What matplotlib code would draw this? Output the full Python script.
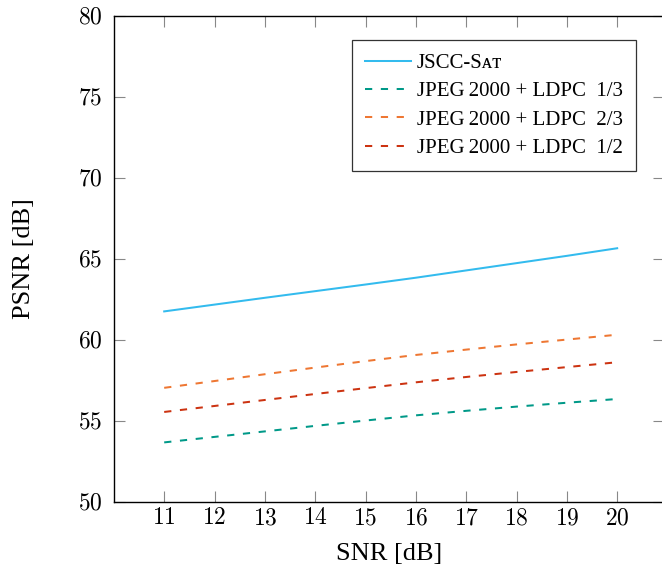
import numpy as np
import matplotlib
matplotlib.use("Agg")
import matplotlib.pyplot as plt

plt.rcParams['font.family'] = ['Liberation Serif', 'DejaVu Serif']
plt.rcParams['mathtext.fontset'] = 'cm'
plt.rcParams['lines.scale_dashes'] = False

# data
snr = [11, 12, 13, 14, 15, 16, 17, 18, 19, 20]
psnr_jscc = [61.74, 62.16, 62.58, 62.99, 63.40, 63.82, 64.27, 64.72, 65.17, 65.64]
psnr_ldpc13 = [53.65, 53.99, 54.33, 54.67, 55.00, 55.32, 55.60, 55.86, 56.10, 56.33]
psnr_ldpc23 = [57.02, 57.44, 57.86, 58.27, 58.67, 59.05, 59.38, 59.70, 60.00, 60.30]
psnr_ldpc12 = [55.53, 55.90, 56.27, 56.64, 57.00, 57.36, 57.69, 58.00, 58.30, 58.60]

labels = ['JSCC-S\u1d00\u1d1b', 'JPEG\u20092000 + LDPC  1/3',
          'JPEG\u20092000 + LDPC  2/3', 'JPEG\u20092000 + LDPC  1/2']
colors = ['#33BBEE', '#009988', '#EE7733', '#CC3311']
xticks = list(range(11, 21))
yticks = [50, 55, 60, 65, 70, 75, 80]

fig = plt.figure(figsize=(6.62, 5.71), dpi=100)
ax = fig.add_axes([0.172, 0.1217, 0.831, 0.8508])

dash = (5.2, 6.2)
ax.plot(snr, psnr_jscc, color=colors[0], lw=1.45, label=labels[0])
ax.plot(snr, psnr_ldpc13, color=colors[1], lw=1.45, dashes=dash, label=labels[1])
ax.plot(snr, psnr_ldpc23, color=colors[2], lw=1.45, dashes=dash, label=labels[2])
ax.plot(snr, psnr_ldpc12, color=colors[3], lw=1.45, dashes=dash, label=labels[3])

ax.set_xlim(10, 20.93)
ax.set_ylim(50, 80)
ax.set_xticks(xticks)
ax.set_yticks(yticks)
ax.set_xticklabels([f'${v}$' for v in xticks])
ax.set_yticklabels([f'${v}$' for v in yticks])
ax.tick_params(direction='in', length=8, width=0.8, color='#888888',
               top=True, right=True, labelsize=17)
ax.tick_params(axis='x', pad=5)
ax.tick_params(axis='y', pad=8)
for s in ax.spines.values():
    s.set_linewidth(1.0)

ax.set_xlabel('SNR [dB]', fontsize=19, labelpad=10)
ax.set_ylabel('PSNR [dB]', fontsize=19, labelpad=31)

leg = ax.legend(loc='upper right', bbox_to_anchor=(636 / 662, 1 - 40 / 571),
                bbox_transform=fig.transFigure, fontsize=15, frameon=True,
                fancybox=False, edgecolor='#333333', framealpha=1,
                handlelength=2.2, handletextpad=0.26, labelspacing=0.42,
                borderpad=0.64, borderaxespad=0)
leg.get_frame().set_linewidth(0.9)

fig.savefig('out.png', dpi=100)
